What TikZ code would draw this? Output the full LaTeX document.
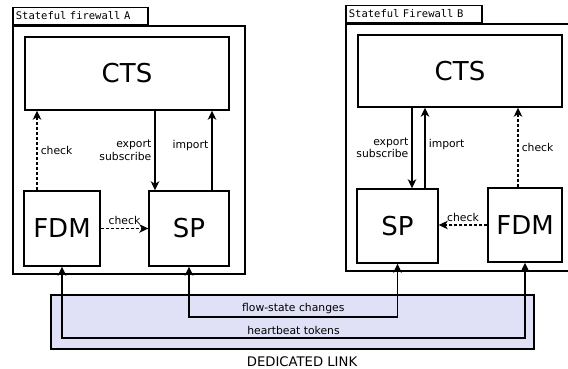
\documentclass[tikz,border=0pt]{standalone}
\usepackage{fontspec}
\setmainfont{DejaVu Sans}
\setmonofont{DejaVu Sans Mono}
\usetikzlibrary{arrows.meta}
\definecolor{linkblue}{RGB}{224,224,247}
\tikzstyle{frame} = [rectangle, draw=black, line width=1.6pt]
\tikzstyle{tag} = [rectangle, draw=black, line width=1.4pt, anchor=south west, minimum height=17pt, text width=129pt, inner xsep=3pt, inner ysep=0pt, align=left, font=\ttfamily\fontsize{10.5}{12}\selectfont]
\tikzstyle{module} = [rectangle, draw=black, line width=1.4pt, font=\fontsize{26}{30}\selectfont]
\tikzstyle{link} = [rectangle, draw=black, line width=1.6pt, fill=linkblue]
\tikzstyle{arrow} = [line width=1.5pt,->,>={Stealth[length=9pt,width=8.5pt,inset=2.5pt]}]
\tikzstyle{checkarrow} = [arrow, dash pattern=on 3pt off 2pt]
\tikzstyle{lbl} = [font=\fontsize{10.8}{12.5}\selectfont, inner sep=3pt]

\begin{document}
\begin{tikzpicture}[x=1pt,y=-1pt]
\useasboundingbox (0,0) rectangle (568,369);

% firewall A
\node (fwA) [frame, minimum width=232pt, minimum height=248pt] at (129,150) {};
\node (tagA) [tag] at (fwA.north west) {Stateful firewall A};
\node (ctsA) [module, minimum width=204pt, minimum height=73pt] at (127,73.5) {CTS};
\node (fdmA) [module, minimum width=76pt, minimum height=75pt] at (62,228.5) {FDM};
\node (spA) [module, minimum width=80pt, minimum height=75pt] at (189,228.5) {SP};

% firewall B
\node (fwB) [frame, minimum width=229pt, minimum height=247pt] at (460.5,147.5) {};
\node (tagB) [tag, text width=130pt] at (fwB.north west) {Stateful Firewall B};
\node (ctsB) [module, minimum width=204pt, minimum height=72pt] at (460,71) {CTS};
\node (spB) [module, minimum width=81pt, minimum height=74pt] at (397.5,226) {SP};
\node (fdmB) [module, minimum width=74pt, minimum height=74pt] at (525,225) {FDM};

% dedicated link
\node (link) [link, minimum width=483pt, minimum height=54pt] at (292.5,322) {};
\node (linkname) [lbl, font=\fontsize{13.2}{15}\selectfont, inner sep=1pt] at (302,361.5) {DEDICATED LINK};

\coordinate (chkA) at (37,0);
\coordinate (expA) at (155,0);
\coordinate (impA) at (212,0);
\coordinate (expB) at (412,0);
\coordinate (impB) at (425,0);
\coordinate (chkB) at (518,0);
\coordinate (flowY) at (0,317);
\coordinate (beatY) at (0,338);

\draw [checkarrow] (chkA |- fdmA.north) -- node[lbl, right]{check} (chkA |- ctsA.south);
\draw [arrow] (expA |- ctsA.south) -- node[lbl, left, align=right]{export\\subscribe} (expA |- spA.north);
\draw [arrow] (impA |- spA.north) -- node[lbl, left, pos=0.56]{import} (impA |- ctsA.south);
\draw [checkarrow] (fdmA.east) -- node[lbl, above]{check} (spA.west);

\draw [arrow] (expB |- ctsB.south) -- node[lbl, left, align=right]{export\\subscribe} (expB |- spB.north);
\draw [arrow] (impB |- spB.north) -- node[lbl, right, pos=0.54]{import} (impB |- ctsB.south);
\draw [checkarrow] (chkB |- fdmB.north) -- node[lbl, right]{check} (chkB |- ctsB.south);
\draw [checkarrow] (fdmB.west) -- node[lbl, above]{check} (fdmB.west -| spB.east);

\draw [arrow, <->] (spA.south) -- (spA.south |- flowY) -- node[lbl, above]{flow-state changes} (spB.south |- flowY) -- (spB.south);
\draw [arrow, <->] (fdmA.south) -- (fdmA.south |- beatY) -- node[lbl, above]{heartbeat tokens} (fdmB.south |- beatY) -- (fdmB.south);

\end{tikzpicture}
\end{document}
